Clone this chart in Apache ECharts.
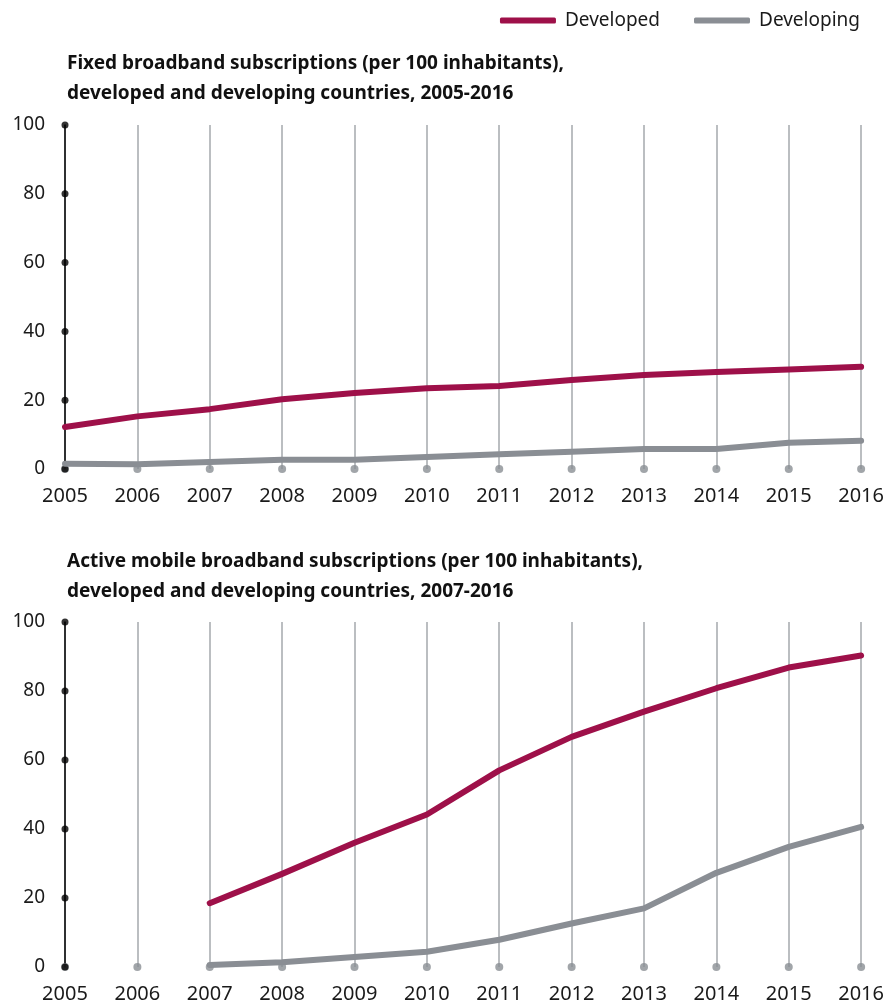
<!DOCTYPE html>
<html>
<head>
<meta charset="utf-8">
<script src="https://cdn.jsdelivr.net/npm/echarts@6/dist/echarts.min.js"></script>
<style>
  html, body { margin: 0; padding: 0; background: #fff; }
  #main { width: 887px; height: 1004px; }
</style>
</head>
<body>
<div id="main"></div>
<script>
  const years = ["2005", "2006", "2007", "2008", "2009", "2010", "2011", "2012", "2013", "2014", "2015", "2016"];
  const yTicks = [0, 20, 40, 60, 80, 100];

  // fixed broadband, per 100 inhabitants
  const fixedDeveloped = [12.2, 15.3, 17.4, 20.3, 22.1, 23.5, 24.1, 25.9, 27.3, 28.2, 28.9, 29.7];
  const fixedDeveloping = [1.5, 1.4, 2.0, 2.7, 2.7, 3.5, 4.3, 5.0, 5.8, 5.8, 7.6, 8.2];

  // active mobile broadband, per 100 inhabitants (from 2007)
  const mobileDeveloped = [null, null, 18.5, 27.0, 36.0, 44.2, 57.0, 66.7, 74.0, 80.8, 86.8, 90.3];
  const mobileDeveloping = [null, null, 0.6, 1.4, 2.9, 4.4, 7.9, 12.6, 17.0, 27.3, 34.8, 40.6];

  const titles = [
    "Fixed broadband subscriptions (per 100 inhabitants),\ndeveloped and developing countries, 2005-2016",
    "Active mobile broadband subscriptions (per 100 inhabitants),\ndeveloped and developing countries, 2007-2016"
  ];

  const red = "#9e1049";
  const grey = "#8a8e94";
  const gridGrey = "#a4a8ac";
  const font = "Noto Sans";

  let chart = echarts.init(document.getElementById("main"));

  let grids = [
    { left: 65, right: 23, top: 125, height: 344 },
    { left: 65, right: 23, top: 622, height: 345 }
  ];

  let xAxes = grids.map((g, i) => ({
    type: "category",
    gridIndex: i,
    data: years,
    boundaryGap: false,
    axisLine: { show: false },
    axisTick: { show: false },
    axisLabel: { color: "#1a1a1a", fontSize: 20, fontFamily: font, margin: 17, interval: 0 },
    splitLine: { show: true, lineStyle: { color: gridGrey, width: 1.5 } }
  }));

  let yAxes = grids.map((g, i) => ({
    type: "value",
    gridIndex: i,
    min: 0,
    max: 100,
    interval: 20,
    axisLine: { show: true, lineStyle: { color: "#000", width: 1.5 } },
    axisTick: { show: false },
    splitLine: { show: false },
    axisLabel: { color: "#1a1a1a", fontSize: 19, fontFamily: font, margin: 20 }
  }));

  let lines = [
    [fixedDeveloped, fixedDeveloping],
    [mobileDeveloped, mobileDeveloping]
  ];

  let series = [];
  grids.forEach((g, i) => {
    // grey dots at the foot of each gridline
    series.push({
      type: "scatter",
      xAxisIndex: i,
      yAxisIndex: i,
      symbolSize: 8,
      itemStyle: { color: grey },
      data: years.map((y) => [y, 0]),
      silent: true,
      z: 1
    });
    // black dots on the y axis ticks
    series.push({
      type: "scatter",
      xAxisIndex: i,
      yAxisIndex: i,
      symbolSize: 7,
      itemStyle: { color: "#000" },
      data: yTicks.map((v) => [years[0], v]),
      silent: true,
      z: 3
    });
    series.push({
      name: "Developed",
      type: "line",
      xAxisIndex: i,
      yAxisIndex: i,
      data: lines[i][0],
      showSymbol: false,
      lineStyle: { color: red, width: 6, cap: "round", join: "round" },
      itemStyle: { color: red },
      z: 4
    });
    series.push({
      name: "Developing",
      type: "line",
      xAxisIndex: i,
      yAxisIndex: i,
      data: lines[i][1],
      showSymbol: false,
      lineStyle: { color: grey, width: 6, cap: "round", join: "round" },
      itemStyle: { color: grey },
      z: 4
    });
  });

  let option = {
    animation: false,
    backgroundColor: "#fff",
    title: titles.map((t, i) => ({
      text: t,
      left: 62,
      top: i === 0 ? 44 : 542,
      textStyle: { fontFamily: font, fontWeight: "bold", fontSize: 19, color: "#111", lineHeight: 30 }
    })),
    legend: {
      data: ["Developed", "Developing"],
      right: 22,
      top: 6,
      icon: "roundRect",
      itemWidth: 56,
      itemHeight: 6,
      itemGap: 34,
      textStyle: { fontFamily: font, fontSize: 19, color: "#1a1a1a", padding: [0, 0, 0, 4] }
    },
    grid: grids,
    xAxis: xAxes,
    yAxis: yAxes,
    series: series
  };
  chart.setOption(option);
</script>
</body>
</html>
